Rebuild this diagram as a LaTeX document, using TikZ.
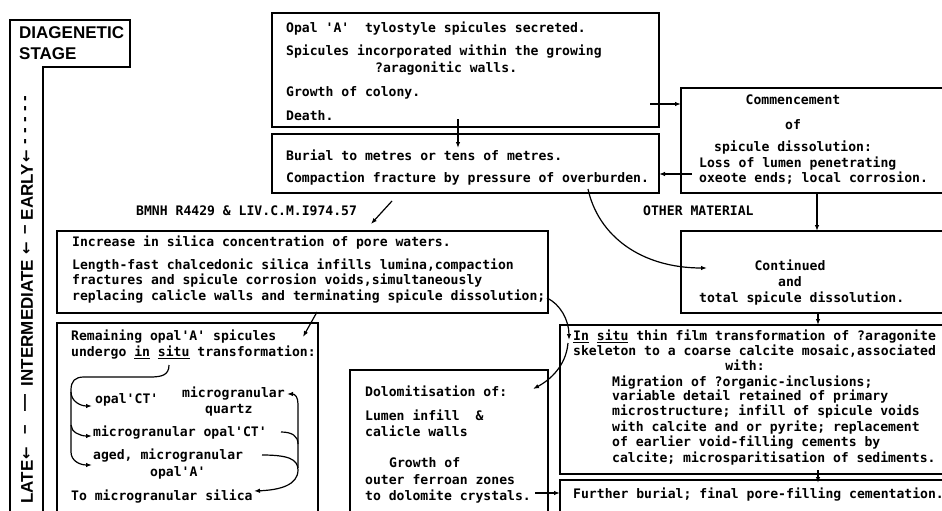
\documentclass[tikz,border=0pt]{standalone}
\usepackage{fontspec}
\newfontfamily\tw{DejaVu Sans Mono}
\newfontfamily\stg{Liberation Sans}
\newfontfamily\arw{DejaVu Sans}
\usetikzlibrary{arrows.meta}
\newcommand\qq{\textquotesingle}
\begin{document}
\begin{tikzpicture}[x=1pt,y=-1pt,
  box/.style={draw,line width=1.7pt,rectangle,inner sep=0pt,outer sep=0pt,anchor=north west},
  tx/.style={anchor=west,inner sep=0pt,text height=9pt,text depth=2pt,font=\tw\bfseries\fontsize{13.1}{15}\selectfont},
  txc/.style={tx,anchor=center},
  arr/.style={line width=1.2pt,-{Latex[length=6pt,width=4.5pt]}},
  ln/.style={line width=1.2pt},
  stage/.style={rotate=90,inner sep=0pt,font=\stg\bfseries\fontsize{17}{17}\selectfont},
  stagearrow/.style={rotate=90,inner sep=0pt,font=\arw\bfseries\fontsize{15}{15}\selectfont},
]
\useasboundingbox (0,0) rectangle (942,511);
\fill[white] (0,0) rectangle (942,511);

% stage column
\draw[line width=1.7pt] (43,520) -- (43,67) -- (130,67) -- (130,20) -- (10,20) -- (10,520);
\node[anchor=west,inner sep=0pt,font=\stg\bfseries\fontsize{17}{17}\selectfont] (s1) at (19,33) {DIAGENETIC};
\node[anchor=west,inner sep=0pt,font=\stg\bfseries\fontsize{17}{17}\selectfont] (s2) at (19,54) {STAGE};
\node[stage] (s3) at (27,482) {LATE};
\node[stagearrow] (s4) at (27,453) {←};
\node[stage] (s5) at (27,430) {–};
\node[stage] (s6) at (27,403) {—};
\node[stage] (s7) at (27,323) {INTERMEDIATE};
\node[stagearrow] (s8) at (27,248) {←};
\node[stage] (s9) at (27,230) {–};
\node[stage] (s10) at (27,192) {EARLY};
\node[stagearrow] (s11) at (27,156) {←};
\node[stage] (s12) at (27,142) {-};
\node[stage] (s13) at (27,131) {-};
\node[stage] (s14) at (27,120) {-};
\node[stage] (s15) at (27,109) {-};
\node[stage] (s16) at (27,99) {-};

% boxes
\node[box,minimum width=387pt,minimum height=114pt] (A) at (272,13) {};
\node[box,minimum width=387pt,minimum height=59pt] (B) at (272,134) {};
\node[box,minimum width=270pt,minimum height=105pt] (C) at (681,88) {};
\node[box,minimum width=270pt,minimum height=82pt] (D) at (681,231) {};
\node[box,minimum width=491pt,minimum height=82pt] (E) at (57,231) {};
\node[box,minimum width=261pt,minimum height=200pt] (F) at (57,323) {};
\node[box,minimum width=198pt,minimum height=150pt] (G) at (350,370) {};
\node[box,minimum width=390pt,minimum height=149pt] (H) at (560,325) {};
\node[box,minimum width=390pt,minimum height=40pt] (I) at (560,480) {};

% texts A
\node[tx] (a1) at (286,29) {Opal \qq A\qq~ tylostyle spicules secreted.};
\node[tx] (a2) at (286,52) {Spicules incorporated within the growing};
\node[tx] (a3) at (375,69) {?aragonitic walls.};
\node[tx] (a4) at (286,93) {Growth of colony.};
\node[tx] (a5) at (286,117) {Death.};
% B
\node[tx] (b1) at (286,157) {Burial to metres or tens of metres.};
\node[tx] (b2) at (286,179) {Compaction fracture by pressure of overburden.};
% C
\node[txc] (c1) at (793,101) {Commencement};
\node[txc] (c2) at (793,126) {of};
\node[tx] (c3) at (714,148) {spicule dissolution:};
\node[tx] (c4) at (699,164) {Loss of lumen penetrating};
\node[tx] (c5) at (699,179) {oxeote ends; local corrosion.};
% D
\node[txc] (d1) at (790,267) {Continued};
\node[txc] (d2) at (790,283) {and};
\node[tx] (d3) at (699,299) {total spicule dissolution.};
% labels
\node[tx] (l1) at (643,212) {OTHER MATERIAL};
\node[tx] (l2) at (136,212) {BMNH R4429 \& LIV.C.M.I974.57};
% E
\node[tx] (e1) at (72,243) {Increase in silica concentration of pore waters.};
\node[tx] (e2) at (72,266) {Length-fast chalcedonic silica infills lumina,compaction};
\node[tx] (e3) at (72,281) {fractures and spicule corrosion voids,simultaneously};
\node[tx] (e4) at (72,297) {replacing calicle walls and terminating spicule dissolution;};
% F
\node[tx] (f1) at (71,337) {Remaining opal\qq A\qq{} spicules};
\node[tx] (f2) at (71,353) {undergo \underline{in} \underline{situ} transformation:};
\node[tx] (f3) at (95,400) {opal\qq CT\qq};
\node[tx] (f4) at (182,394) {microgranular};
\node[tx] (f5) at (205,410) {quartz};
\node[tx] (f6) at (93,433) {microgranular opal\qq CT\qq};
\node[tx] (f7) at (93,456) {aged, microgranular};
\node[tx] (f8) at (150,473) {opal\qq A\qq};
\node[tx] (f9) at (71,497) {To microgranular silica};
% G
\node[tx] (g1) at (365,393) {Dolomitisation of:};
\node[tx] (g2) at (365,417) {Lumen infill~ \&};
\node[tx] (g3) at (365,433) {calicle walls};
\node[tx] (g4) at (389,464) {Growth of};
\node[tx] (g5) at (365,481) {outer ferroan zones};
\node[tx] (g6) at (365,497) {to dolomite crystals.};
% H
\node[tx] (h1) at (573,337) {\underline{In} \underline{situ} thin film transformation of ?aragonite};
\node[tx] (h2) at (573,352) {skeleton to a coarse calcite mosaic,associated};
\node[txc] (h3) at (745,367) {with:};
\node[tx] (h4) at (612,383) {Migration of ?organic-inclusions;};
\node[tx] (h5) at (612,397) {variable detail retained of primary};
\node[tx] (h6) at (612,412) {microstructure; infill of spicule voids};
\node[tx] (h7) at (612,428) {with calcite and or pyrite; replacement};
\node[tx] (h8) at (612,443) {of earlier void-filling cements by};
\node[tx] (h9) at (612,459) {calcite; microsparitisation of sediments.};
% I
\node[tx] (i1) at (573,495) {Further burial; final pore-filling cementation.};

% connector coordinates
\coordinate (pA1) at (650,104);
\coordinate (pC1) at (692,174);
\coordinate (pA2) at (458,119);
\coordinate (pB1) at (458,148);
\coordinate (pC2) at (817,193);
\coordinate (pD1) at (818,313);
\coordinate (pH1) at (818,470);
\coordinate (pH2) at (818,483);
\coordinate (pG1) at (535,493);
\coordinate (pB2) at (392,201);
\coordinate (pE1) at (371,224);
\coordinate (pB3) at (588,189);
\coordinate (pD2) at (707,268);
\coordinate (pE2) at (547,298);
\coordinate (pH3) at (569,340);
\coordinate (pH4) at (568,343);
\coordinate (pG2) at (533,389);
\coordinate (pE3) at (317,312);
\coordinate (pF1) at (303,337);

\draw[arr] (pA1) -- (pA1 -| C.west);
\draw[arr] (pC1) -- (pC1 -| B.east);
\draw[arr] (pA2) -- (pB1);
\draw[arr] (pC2) -- (pC2 |- D.north);
\draw[arr] (pD1) -- (pD1 |- H.north);
\draw[arr] (pH1) -- (pH2);
\draw[arr] (pG1) -- (pG1 -| I.west);
\draw[arr] (pB2) -- (pE1);
\draw[arr] (pB3) .. controls (598,235) and (640,268) .. (pD2);
\draw[arr] (pE2) .. controls (560,304) and (569,320) .. (pH3);
\draw[arr] (pH4) .. controls (566,366) and (550,380) .. (pG2);
\draw[arr] (pE3) -- (pF1);

% brackets in F
\coordinate (q1) at (169,365);
\coordinate (q2) at (92,465);
\coordinate (q3) at (92,406);
\coordinate (q4) at (92,436);
\draw[arr] (q1) .. controls (169,375) and (162,377) .. (150,377) -- (84,377)
  .. controls (75,377) and (71,381) .. (71,390) -- (71,452) .. controls (71,461) and (80,465) .. (q2);
\draw[arr] (71,392) .. controls (71,401) and (80,406) .. (q3);
\draw[arr] (71,425) .. controls (71,432) and (80,436) .. (q4);
\coordinate (r1) at (287,394);
\coordinate (r2) at (254,491);
\coordinate (r3) at (281,432);
\coordinate (r4) at (262,455);
\draw[arr] (298,468) -- (298,404) .. controls (298,397) and (295,394) .. (r1);
\draw[arr] (r4) .. controls (288,455) and (298,459) .. (298,470) .. controls (298,485) and (280,490) .. (r2);
\draw[ln] (r3) .. controls (292,432) and (298,436) .. (298,444);
\end{tikzpicture}
\end{document}
